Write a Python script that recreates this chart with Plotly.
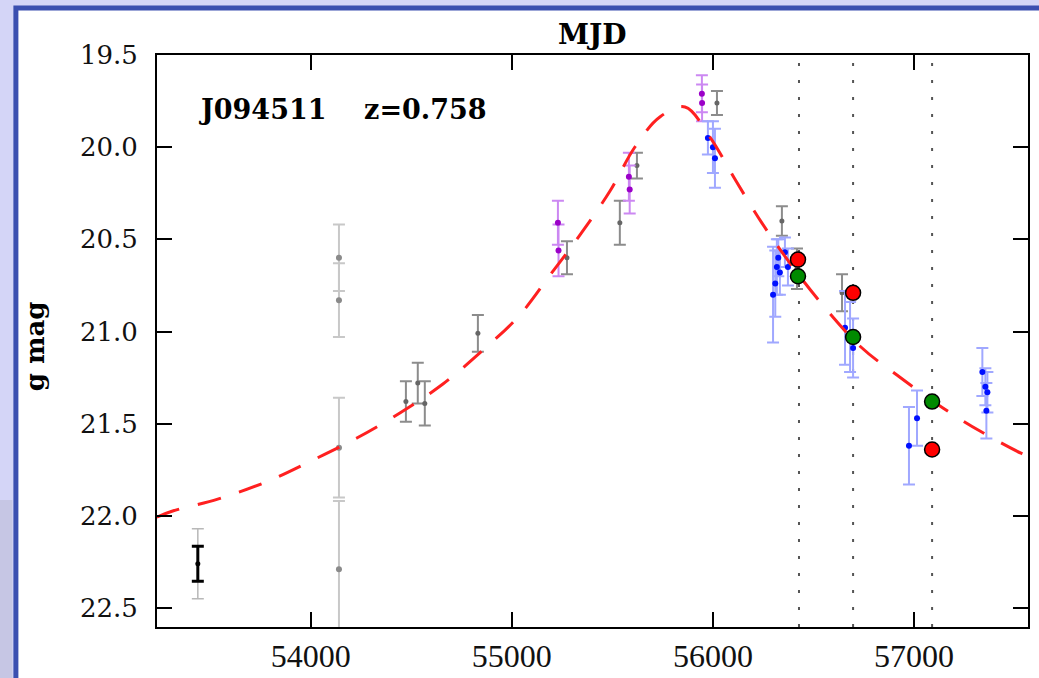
import plotly.graph_objects as go

# model light curve (red dashed)
model_mjd = [53234, 53313, 53537, 53776, 54000, 54229, 54443, 54657, 54856, 55035,
             55194, 55338, 55488, 55612, 55736, 55861, 55985, 56109, 56244, 56383,
             56542, 56736, 56915, 57144, 57328, 57532, 57567]
model_mag = [22.007, 21.974, 21.909, 21.817, 21.703, 21.578, 21.442, 21.285, 21.101, 20.916,
             20.688, 20.477, 20.238, 19.999, 19.836, 19.782, 19.945, 20.173, 20.412, 20.629,
             20.851, 21.084, 21.236, 21.415, 21.540, 21.660, 21.676]

# old black point
black_mjd = [53438]
black_mag = [22.26]
black_err = [0.095]
black_err_outer = [0.19]

# faint grey points at ~54140
faint_mjd = [54140, 54140, 54140, 54140]
faint_mag = [20.60, 20.83, 21.63, 22.29]
faint_err = [0.18, 0.20, 0.27, 0.37]

# grey points
grey_mjd = [54473, 54532, 54567, 54831, 55274, 55537, 55622, 56020, 56343, 56418, 56642]
grey_mag = [21.38, 21.28, 21.39, 21.01, 20.60, 20.41, 20.10, 19.76, 20.40, 20.66, 20.79]
grey_err = [0.11, 0.11, 0.12, 0.10, 0.09, 0.12, 0.07, 0.065, 0.08, 0.11, 0.10]

# purple points
purple_mjd = [55229, 55232, 55582, 55586, 55945, 55946]
purple_mag = [20.41, 20.56, 20.16, 20.23, 19.71, 19.76]
purple_err = [0.12, 0.14, 0.13, 0.13, 0.10, 0.10]

# blue points
blue_mjd = [55975, 56000, 56010, 56299, 56310, 56318, 56325, 56333, 56358, 56373,
            56657, 56682, 56697, 56975, 57015, 57340, 57355, 57360, 57365]
blue_mag = [19.95, 20.00, 20.06, 20.80, 20.74, 20.65, 20.60, 20.68, 20.57, 20.65,
            20.98, 21.03, 21.09, 21.62, 21.47, 21.22, 21.30, 21.43, 21.33]
blue_err = [0.09, 0.14, 0.16, 0.26, 0.18, 0.15, 0.10, 0.12, 0.08, 0.10,
            0.20, 0.19, 0.16, 0.21, 0.15, 0.13, 0.10, 0.15, 0.11]

# spectroscopic epochs
red_mjd = [56423, 56697, 57090]
red_mag = [20.61, 20.79, 21.64]
green_mjd = [56423, 56697, 57090]
green_mag = [20.70, 21.03, 21.38]
vline_mjd = [56428, 56697, 57090]

x_ticks = [54000, 55000, 56000, 57000]
y_ticks = [19.5, 20.0, 20.5, 21.0, 21.5, 22.0, 22.5]

SERIF = "DejaVu Serif"


def err_points(x, y, err, marker_color, bar_color, size=6, thick=2):
    return go.Scatter(
        x=x, y=y, mode="markers",
        marker={"color": marker_color, "size": size},
        error_y={"type": "data", "array": err, "color": bar_color, "thickness": thick, "width": 6},
        hoverinfo="skip",
    )


fig = go.Figure()

# slide backdrop: greyish strip at lower left, white panel with blue frame
fig.add_shape(type="rect", xref="paper", yref="paper", x0=-0.181, x1=-0.166, y0=-0.1, y1=0.222,
              fillcolor="#c6c6e4", line={"width": 0}, layer="below")
fig.add_shape(type="rect", xref="paper", yref="paper", x0=-0.162, x1=1.05, y0=-0.15, y1=1.0822,
              fillcolor="white", line={"color": "#3b4fb0", "width": 5}, layer="below")
for v in vline_mjd:
    fig.add_shape(type="line", xref="x", yref="paper", x0=v, x1=v, y0=0, y1=1,
                  line={"color": "#555555", "width": 2, "dash": "3px,14px"}, layer="below")

fig.add_trace(err_points(black_mjd, black_mag, black_err_outer, "rgba(0,0,0,0)", "#b8b8b8", thick=1.5))
fig.add_trace(err_points(black_mjd, black_mag, black_err, "black", "black", size=5, thick=3))
fig.add_trace(err_points(faint_mjd, faint_mag, faint_err, "#8a8a8a", "#c8c8c8", size=6))
fig.add_trace(err_points(grey_mjd, grey_mag, grey_err, "#666666", "#8c8c8c", size=5))
fig.add_trace(err_points(purple_mjd, purple_mag, purple_err, "#9b00c8", "#cc88f2", size=6))
fig.add_trace(err_points(blue_mjd, blue_mag, blue_err, "#0010ff", "#a0a8ff", size=6))

fig.add_trace(go.Scatter(
    x=model_mjd, y=model_mag, mode="lines",
    line={"color": "#ff2020", "width": 3, "dash": "24px,19px", "shape": "spline"},
    hoverinfo="skip",
))

fig.add_trace(go.Scatter(
    x=red_mjd, y=red_mag, mode="markers",
    marker={"color": "#ff0000", "size": 15, "line": {"color": "black", "width": 1.5}},
    hoverinfo="skip",
))
fig.add_trace(go.Scatter(
    x=green_mjd, y=green_mag, mode="markers",
    marker={"color": "#008a00", "size": 15, "line": {"color": "black", "width": 1.5}},
    hoverinfo="skip",
))

fig.add_annotation(xref="paper", yref="paper", x=0.5, y=1.035, xanchor="center", yanchor="middle",
                   showarrow=False, text="<b>MJD</b>", font={"family": SERIF, "size": 28, "color": "black"})
fig.add_annotation(xref="paper", yref="paper", x=-0.1405, y=0.49, xanchor="center", yanchor="middle",
                   textangle=-90, showarrow=False,
                   text="<b>g mag</b>", font={"family": SERIF, "size": 26, "color": "black"})
fig.add_annotation(xref="paper", yref="paper", x=0.046, y=0.904, xanchor="left", yanchor="middle",
                   showarrow=False, text="<b>J094511&nbsp;&nbsp;&nbsp;&nbsp;z=0.758</b>",
                   font={"family": SERIF, "size": 27, "color": "black"})

axis_common = dict(
    showline=True, linecolor="black", linewidth=2, mirror="allticks",
    ticks="inside", ticklen=15, tickwidth=2, tickcolor="black",
    showgrid=False, zeroline=False, fixedrange=True, automargin=False,
)
fig.update_xaxes(range=[53235, 57567], tickvals=x_ticks, ticktext=[str(t) for t in x_ticks],
                 tickfont={"family": "Liberation Serif", "size": 32, "color": "#111"},
                 ticklabelstandoff=0, **axis_common)
fig.update_yaxes(range=[22.603, 19.5], tickvals=y_ticks, ticktext=[f"{t:.1f}" for t in y_ticks],
                 tickfont={"family": SERIF, "size": 26, "color": "#111"},
                 ticklabelstandoff=12, **axis_common)

fig.update_layout(
    width=1039, height=678,
    margin=dict(l=157, r=11, t=55, b=51, autoexpand=False),
    paper_bgcolor="#d4d5f7",
    plot_bgcolor="rgba(0,0,0,0)",
    showlegend=False,
)

fig.write_html("out.html", config={"displayModeBar": False},
               post_script="document.body.style.margin = '0px';")
